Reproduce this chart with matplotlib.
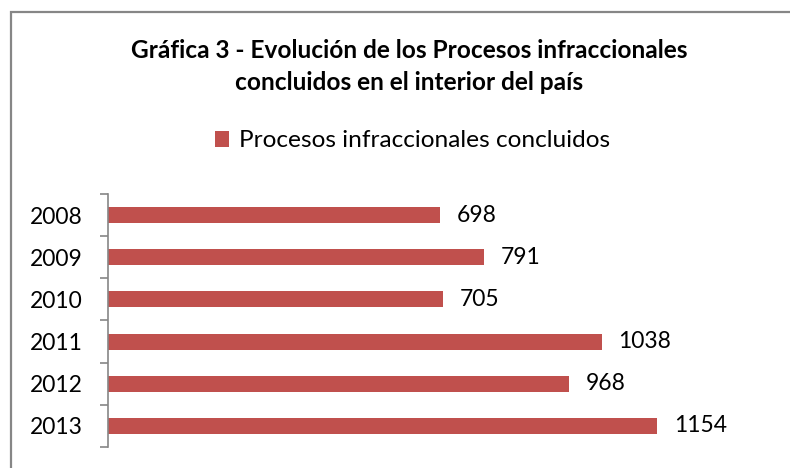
import matplotlib
matplotlib.use("Agg")
import matplotlib.pyplot as plt
from matplotlib.patches import Rectangle
import numpy as np

years = ["2008", "2009", "2010", "2011", "2012", "2013"]
procesos = [698, 791, 705, 1038, 968, 1154]

title = "Gráfica 3 - Evolución de los Procesos infraccionales\nconcluidos en el interior del país"
serie = "Procesos infraccionales concluidos"

plt.rcParams['font.family'] = ['Lato', 'DejaVu Sans']
bar_color = "#C0504D"
axis_gray = "#868686"

fig = plt.figure(figsize=(7.9, 4.68), dpi=100)
ax = fig.add_axes([0.1367, 0.0449, 0.8433, 0.5406])

y = np.arange(len(years))
bars = ax.barh(y, procesos, height=0.38, color=bar_color, label=serie)
ax.bar_label(bars, labels=[str(v) for v in procesos], padding=12, fontsize=16.5)

ax.set_xlim(0, 1400)
ax.set_ylim(len(years) - 0.5, -0.5)
ax.set_yticks(y)
ax.set_yticklabels(years, fontsize=16.5)
ax.set_yticks(np.arange(-0.5, len(years)), minor=True)
ax.tick_params(axis="y", which="major", length=0, pad=18)
ax.tick_params(axis="y", which="minor", length=6, width=1.2, color=axis_gray, direction="out")
ax.set_xticks([])
for s in ["top", "right", "bottom"]:
    ax.spines[s].set_visible(False)
ax.spines["left"].set_color(axis_gray)
ax.spines["left"].set_linewidth(1.2)

fig.text(0.518, 0.858, title, ha="center", va="center", fontsize=17.6,
         fontweight="bold", linespacing=1.45)

fig.legend(handles=[bars], labels=[serie], loc="center", bbox_to_anchor=(0.522, 0.699),
           frameon=False, fontsize=17.6, handlelength=0.6, handleheight=0.6,
           handletextpad=0.4, borderaxespad=0)

# marco del gráfico (recortado a la derecha y abajo)
fig.add_artist(Rectangle((0.0139, -0.5), 2, 1.4744, transform=fig.transFigure,
                         fill=False, edgecolor=axis_gray, linewidth=1.6))

fig.savefig("out.png", dpi=100)
